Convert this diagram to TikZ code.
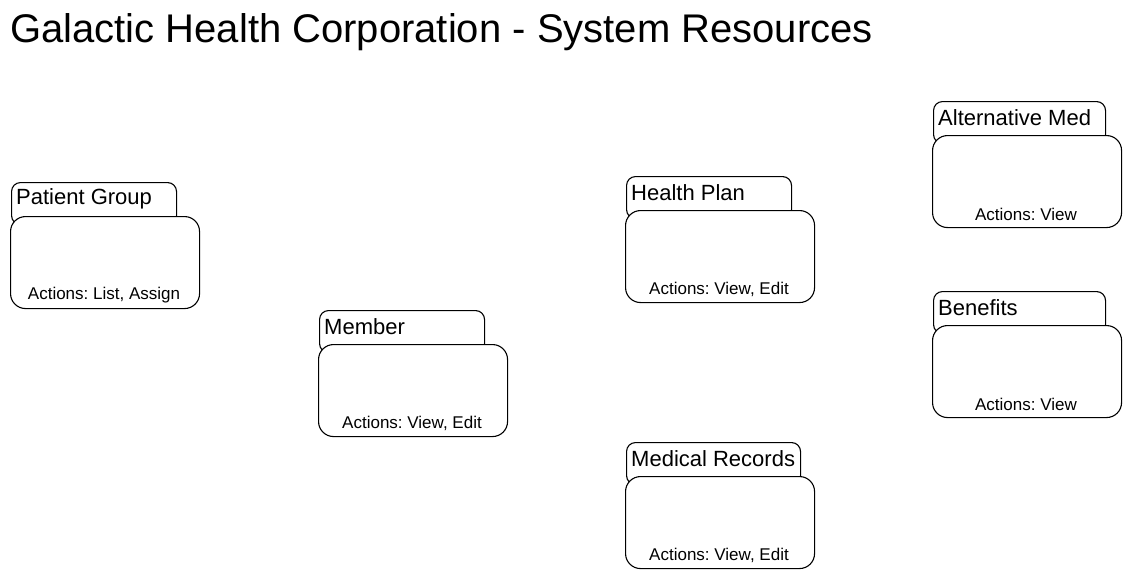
\documentclass[tikz,border=0pt]{standalone}
\usepackage{fontspec}
\setmainfont{Liberation Sans}
\frenchspacing
\begin{document}
\begin{tikzpicture}[x=1pt,y=-1pt,
  tabbox/.style={draw=black, line width=1.1pt, fill=white, rounded corners=9pt, minimum height=42pt, anchor=north west, inner sep=0pt},
  mainbox/.style={draw=black, line width=1.1pt, fill=white, rounded corners=15pt, minimum width=189pt, minimum height=92pt, anchor=north west, inner sep=0pt},
  titletext/.style={anchor=west, inner sep=0pt, font=\fontsize{22}{25}\selectfont},
  acttext/.style={anchor=center, inner sep=0pt, font=\fontsize{17}{20}\selectfont},
  headtext/.style={anchor=west, inner sep=0pt, font=\fontsize{40}{46}\selectfont}]
\useasboundingbox (0,0) rectangle (1131,579);
\newcommand\resbox[6]{%
  \node[tabbox, minimum width=#4pt] (#1tab) at (#2+1,#3) {};
  \node[mainbox] (#1) at (#2,#3+34) {};
  \node[titletext] (#1title) at (#2+6,#3+17) {#5};
  \node[acttext] (#1act) at (#2+94,#3+113) {#6};
}
\node[headtext] (head) at (10,32) {Galactic Health Corporation - System Resources};
\resbox{pg}{10}{182}{165}{Patient Group}{Actions: List, Assign}
\resbox{mem}{318}{310}{165}{Member}{Actions: View, Edit}
\resbox{hp}{625}{176}{165}{Health Plan}{Actions: View, Edit}
\resbox{mr}{625}{442}{174}{Medical Records}{Actions: View, Edit}
\resbox{am}{932}{101}{172}{Alternative Med}{Actions: View}
\resbox{ben}{932}{291}{172}{Benefits}{Actions: View}
\end{tikzpicture}
\end{document}
